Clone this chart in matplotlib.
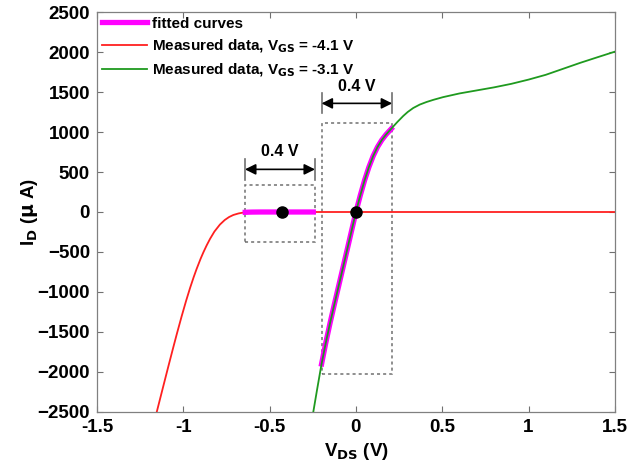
import matplotlib
matplotlib.use("Agg")
import matplotlib.pyplot as plt
from matplotlib.patches import Rectangle

# measured data, V_GS = -4.1 V
v_red = [-1.154, -1.12, -1.087, -1.06, -1.038, -1.01, -0.984, -0.961, -0.94,
         -0.923, -0.90, -0.884, -0.865, -0.845, -0.82, -0.788, -0.76, -0.735,
         -0.71, -0.68, -0.655, -0.633, -0.60, -0.50, -0.40, 0.0, 0.5, 1.0, 1.5]
i_red = [-2500, -2211, -1932, -1707, -1527, -1306, -1111, -950, -814,
         -712, -585, -505, -418, -335, -245, -157, -100, -63,
         -37, -18, -8, -3, -1, 0, 0, 0, 0, 0, 0]

# measured data, V_GS = -3.1 V
v_green = [-0.247, -0.225, -0.2, -0.175, -0.15, -0.125, -0.1, -0.075, -0.05,
           -0.025, 0.0, 0.025, 0.05, 0.075, 0.1, 0.125, 0.15, 0.175, 0.2,
           0.24, 0.274, 0.30, 0.332, 0.37, 0.409, 0.45, 0.505, 0.6, 0.7,
           0.8, 0.9, 1.0, 1.1, 1.2, 1.3, 1.4, 1.5]
i_green = [-2500, -2220, -1910, -1640, -1390, -1155, -925, -695, -465,
           -232, 0, 205, 395, 560, 700, 812, 900, 970, 1030,
           1125, 1200, 1250, 1300, 1343, 1375, 1403, 1436, 1482, 1520,
           1558, 1602, 1655, 1715, 1790, 1865, 1935, 2004]

# fitted curves
v_fit1 = [-0.641, -0.62, -0.60, -0.55, -0.50, -0.45, -0.40, -0.35, -0.30, -0.247]
i_fit1 = [-4, -2, -1, 0, 0, 0, 0, 0, 0, 0]
v_fit2 = [-0.199, -0.175, -0.15, -0.125, -0.1, -0.075, -0.05, -0.025, 0.0,
          0.025, 0.05, 0.075, 0.1, 0.125, 0.15, 0.175, 0.205]
i_fit2 = [-1900, -1640, -1390, -1155, -925, -695, -465, -232, 0,
          205, 395, 560, 700, 812, 900, 970, 1040]

# operating points
v_dots = [-0.43, 0.0]
i_dots = [0, 0]

# dashed windows (v0, v1, i0, i1) and 0.4 V markers
boxes = [(-0.643, -0.237, -371, 337), (-0.199, 0.210, -2025, 1108)]
arrow_i = [533, 1358]
bar_half = [130, 125]
label_i = [760, 1570]

plt.rcParams['font.family'] = ['Liberation Sans', 'DejaVu Sans']
plt.rcParams['font.weight'] = 'bold'
plt.rcParams['axes.labelweight'] = 'bold'
plt.rcParams['mathtext.default'] = 'bf'

fig = plt.figure(figsize=(6.28, 4.73), dpi=100)
ax = fig.add_axes([0.1545, 0.129, 0.8245, 0.8456])

ax.plot(v_fit1, i_fit1, color='#ff00ff', lw=3.8, label='fitted curves', zorder=3)
ax.plot(v_red, i_red, color='#ff2020', lw=1.3,
        label='Measured data, V$_{GS}$ = -4.1 V', zorder=2)
ax.plot(v_green, i_green, color='#1f9a1f', lw=1.3,
        label='Measured data, V$_{GS}$ = -3.1 V', zorder=4)
ax.plot(v_fit2, i_fit2, color='#ff00ff', lw=3.8, zorder=3)
ax.plot(v_dots, i_dots, 'o', color='k', ms=8, zorder=5)

for (v0, v1, i0, i1), ya, bh, yl in zip(boxes, arrow_i, bar_half, label_i):
    ax.add_patch(Rectangle((v0, i0), v1 - v0, i1 - i0, fill=False,
                           ls=(0, (2, 2)), lw=1.1, ec='#707070', zorder=1))
    ax.plot([v0, v0], [ya - bh, ya + bh], color='#707070', lw=1.2)
    ax.plot([v1, v1], [ya - bh, ya + bh], color='#707070', lw=1.2)
    ax.annotate('', xy=(v1, ya), xytext=(v0, ya),
                arrowprops=dict(arrowstyle='<|-|>', color='k', lw=1.2,
                                mutation_scale=16, shrinkA=0, shrinkB=0))
    ax.text((v0 + v1) / 2, yl, '0.4 V', ha='center', va='center',
            fontsize=11.5, fontweight='bold')

ax.set_xlim(-1.5, 1.5)
ax.set_ylim(-2500, 2500)
ax.set_xticks([-1.5, -1, -0.5, 0, 0.5, 1, 1.5])
ax.set_xticklabels(['-1.5', '-1', '-0.5', '0', '0.5', '1', '1.5'])
ax.set_yticks(range(-2500, 2501, 500))
ax.tick_params(direction='in', top=True, right=True, length=4, width=0.8,
               color='#707070', labelsize=13.5, pad=5)
for s in ax.spines.values():
    s.set_color('#808080')
    s.set_linewidth(0.9)

ax.set_xlabel('V$_{DS}$ (V)', fontsize=13.5, labelpad=4)
ax.set_ylabel('I$_{D}$ ($\\mu$ A)', fontsize=13.5, labelpad=-2)

leg = ax.legend(loc='upper left', frameon=False, fontsize=11, handlelength=3.0,
                handletextpad=0.3, borderaxespad=0.1, borderpad=0.2,
                labelspacing=0.45)

fig.savefig('out.png', dpi=100)
